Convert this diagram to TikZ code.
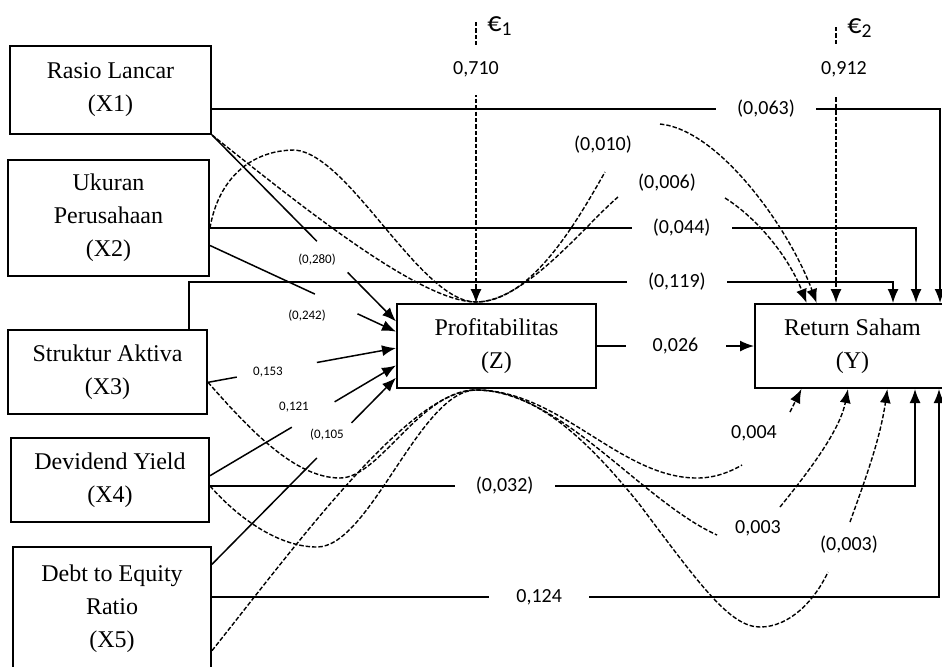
\documentclass[tikz,border=0pt]{standalone}
\usepackage{fontspec}
\setmainfont{Liberation Serif}
\newfontfamily\numfont{Carlito}
\usetikzlibrary{arrows.meta,calc}

\begin{document}
\begin{tikzpicture}[x=0.5pt, y=-0.5pt,
		box/.style={draw, line width=1pt, rectangle, align=center, inner sep=0pt, font=\fontsize{12}{16.5}\selectfont},
		num/.style={font=\numfont\fontsize{10}{12}\selectfont, inner sep=0pt},
		lbl/.style={num, fill=white, minimum width=50pt, minimum height=12pt},
		tiny/.style={font=\numfont\fontsize{6.5}{8}\selectfont, inner sep=0pt},
		eps/.style={font=\numfont\fontsize{14}{16}\selectfont, inner sep=0pt},
		ln/.style={line width=0.75pt},
		dsh/.style={line width=0.7pt, dash pattern=on 2.2pt off 1pt},
		arr/.style={-{Latex[length=7pt,width=5.5pt]}}]
		\useasboundingbox (0,0) rectangle (942,666);
		% variables
		\node (X1) at (110.5, 90) [box, minimum width=100.5pt, minimum height=44pt] {Rasio Lancar\\(X1)};
		\node (X2) at (108.5, 218) [box, minimum width=100.5pt, minimum height=58pt] {Ukuran\\Perusahaan\\(X2)};
		\node (X3) at (107.5, 372) [box, minimum width=99.5pt, minimum height=42pt] {Struktur Aktiva\\(X3)};
		\node (X4) at (110, 480) [box, minimum width=99pt, minimum height=42pt] {Devidend Yield\\(X4)};
		\node (X5) at (112, 608.5) [box, minimum width=99pt, minimum height=61.5pt] {Debt to Equity\\Ratio\\(X5)};
		\node (Z) at (496.5, 346) [box, minimum width=99.5pt, minimum height=42pt] {Profitabilitas\\(Z)};
		\node (Y) at (852.5, 346) [box, minimum width=97.5pt, minimum height=42pt] {Return Saham\\(Y)};
		\node (E1) at (500, 26) [eps] {€\textsubscript{1}};
		\node (E2) at (860, 28) [eps] {€\textsubscript{2}};
		% residuals
		\coordinate (e1) at (476, 22);
		\coordinate (e2) at (836, 27);
		\draw[dsh, arr] (e1) -- node[lbl, pos=0.17, minimum height=25pt, minimum width=30pt] {0,710} (Z.north -| e1);
		\draw[dsh, arr] (e2) -- node[lbl, pos=0.155, minimum height=25pt, minimum width=30pt, xshift=4pt] {0,912} (Y.north -| e2);
		% direct paths to Y
		\coordinate (c1) at (940, 109);
		\coordinate (c2) at (916, 228);
		\coordinate (k3) at (189, 282);
		\coordinate (c3) at (893, 282);
		\coordinate (c4) at (915, 486);
		\coordinate (c5) at (939, 597);
		\draw[ln, arr] (X1.east |- c1) -- node[lbl, pos=0.761] {(0,063)} (c1) -- (Y.north -| c1);
		\draw[ln, arr] (X2.east |- c2) -- node[lbl, pos=0.668] {(0,044)} (c2) -- (Y.north -| c2);
		\draw[ln, arr] (X3.north -| k3) -- (k3) -- node[lbl, pos=0.693] {(0,119)} (c3) -- (Y.north -| c3);
		\draw[ln, arr] (Z.east) -- node[lbl] {0,026} (Y.west);
		\draw[ln, arr] (X4.east |- c4) -- node[lbl, pos=0.418] {(0,032)} (c4) -- (Y.south -| c4);
		\draw[ln, arr] (X5.east |- c5) -- node[lbl, pos=0.45] {0,124} (c5) -- (Y.south -| c5);
		% paths to Z
		\coordinate (s1) at (X1.south east);
		\coordinate (s2) at ($(X2.north east)!0.733!(X2.south east)$);
		\coordinate (s3) at ($(X3.north east)!0.62!(X3.south east)$);
		\coordinate (s4) at ($(X4.north east)!0.45!(X4.south east)$);
		\coordinate (s5) at ($(X5.north east)!0.146!(X5.south east)$);
		\coordinate (z1) at ($(Z.north west)!0.214!(Z.south west)$);
		\coordinate (z2) at ($(Z.north west)!0.333!(Z.south west)$);
		\coordinate (z3) at ($(Z.north west)!0.524!(Z.south west)$);
		\coordinate (z4) at ($(Z.north west)!0.726!(Z.south west)$);
		\coordinate (z5) at ($(Z.north west)!0.869!(Z.south west)$);
		\draw[ln] (s1) -- ($(s1)!0.57!(z1)$);
		\draw[ln, arr] ($(s1)!0.737!(z1)$) -- (z1);
		\draw[ln] (s2) -- ($(s2)!0.564!(z2)$);
		\draw[ln, arr] ($(s2)!0.793!(z2)$) -- (z2);
		\draw[ln] (s3) -- ($(s3)!0.153!(z3)$);
		\draw[ln, arr] ($(s3)!0.579!(z3)$) -- (z3);
		\draw[ln] (s4) -- ($(s4)!0.44!(z4)$);
		\draw[ln, arr] ($(s4)!0.67!(z4)$) -- (z4);
		\draw[ln] (s5) -- ($(s5)!0.57!(z5)$);
		\draw[ln, arr] ($(s5)!0.758!(z5)$) -- (z5);
		\node (P1) at (317, 260) [tiny] {(0,280)};
		\node (P2) at (307, 316) [tiny] {(0,242)};
		\node (P3) at (268, 372) [tiny] {0,153};
		\node (P4) at (294, 407) [tiny] {0,121};
		\node (P5) at (327, 435) [tiny] {(0,105};
		% indirect paths over Z
		\coordinate (zt) at (476, 302);
		\coordinate (zb) at (476, 390);
		\coordinate (h2) at (295, 150);
		\coordinate (a1) at (605, 172);
		\coordinate (b1) at (660, 124);
		\coordinate (a2) at (618, 197);
		\coordinate (b2) at (725, 198);
		\coordinate (yt1) at ($(Y.north west)!0.318!(Y.north east)$);
		\coordinate (yt2) at ($(Y.north west)!0.267!(Y.north east)$);
		\draw[dsh] (s1) .. controls (300,205) and (420,302) .. (zt) .. controls (530,302) and (575,225) .. (a1);
		\draw[dsh, arr] (b1) .. controls (720,130) and (790,230) .. (yt1);
		\draw[dsh] (X2.east |- c2) .. controls (218,180) and (250,150) .. (h2) .. controls (350,155) and (420,302) .. (zt) .. controls (525,302) and (585,225) .. (a2);
		\draw[dsh, arr] (b2) .. controls (760,220) and (790,260) .. (yt2);
		\node (I1) at (603, 145) [num] {(0,010)};
		\node (I2) at (667, 183) [num] {(0,006)};
		% indirect paths under Z
		\coordinate (h3) at (340, 478);
		\coordinate (g3) at (697, 478);
		\coordinate (a3) at (742, 465);
		\coordinate (b3) at (790, 412);
		\coordinate (h4) at (317, 547);
		\coordinate (a4) at (717, 535);
		\coordinate (b4) at (780, 507);
		\coordinate (s5d) at ($(X5.north east)!0.837!(X5.south east)$);
		\coordinate (g5) at (640, 505);
		\coordinate (h5) at (760, 627);
		\coordinate (a5) at (828, 572);
		\coordinate (b5) at (850, 522);
		\coordinate (yb3) at ($(Y.south west)!0.241!(Y.south east)$);
		\coordinate (yb4) at ($(Y.south west)!0.477!(Y.south east)$);
		\coordinate (yb5) at ($(Y.south west)!0.677!(Y.south east)$);
		\draw[dsh] (s3) .. controls (250,430) and (295,478) .. (h3) .. controls (380,478) and (420,390) .. (zb) .. controls (560,390) and (620,478) .. (g3) .. controls (715,478) and (730,472) .. (a3);
		\draw[dsh, arr] (b3) -- (yb3);
		\draw[dsh] (X4.east |- c4) .. controls (240,520) and (280,547) .. (h4) .. controls (370,547) and (420,390) .. (zb) .. controls (560,390) and (640,500) .. (a4);
		\draw[dsh, arr] (b4) .. controls (810,470) and (840,430) .. (yb4);
		\draw[dsh] (s5d) .. controls (300,540) and (410,390) .. (zb) .. controls (530,390) and (580,430) .. (g5) .. controls (700,585) and (730,627) .. (h5) .. controls (790,627) and (815,600) .. (a5);
		\draw[dsh, arr] (b5) .. controls (865,480) and (880,440) .. (yb5);
		\node (I3) at (754, 433) [num] {0,004};
		\node (I4) at (758, 528) [num] {0,003};
		\node (I5) at (849, 545) [num] {(0,003)};
\end{tikzpicture}
\end{document}
